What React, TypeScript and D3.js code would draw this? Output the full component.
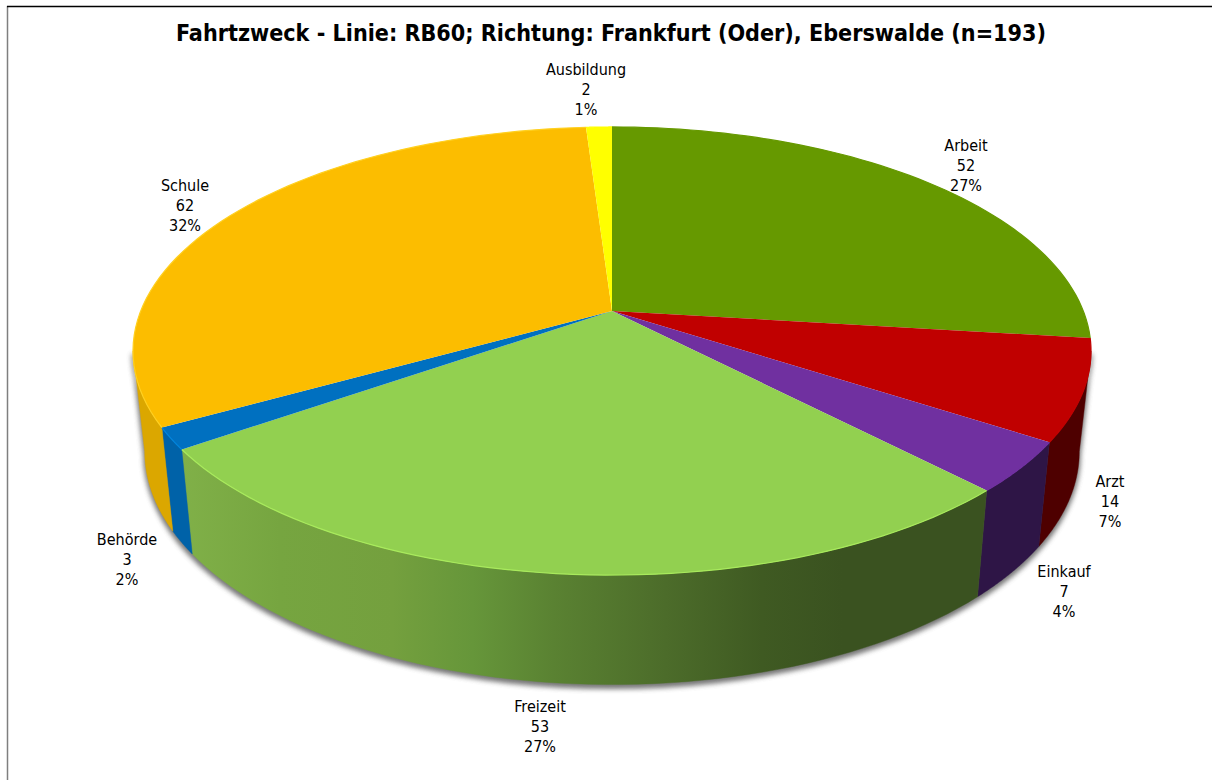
import React from "react";
import * as d3 from "d3";

const categories = ["Arbeit", "Arzt", "Einkauf", "Freizeit", "Behörde", "Schule", "Ausbildung"];
const counts = [52, 14, 7, 53, 3, 62, 2];
const percents = ["27%", "7%", "4%", "27%", "2%", "32%", "1%"];
const chartTitle = "Fahrtzweck - Linie: RB60; Richtung: Frankfurt (Oder), Eberswalde (n=193)";

const topColors = ["#669900", "#C00000", "#7030A0", "#92D050", "#0070C0", "#FCBD00", "#FFFF00"];
const rimColors = ["#669900", "#C00000", "#7030A0", "#A8EA5C", "#0084DC", "#FFD020", "#FFFF00"];
const wallColors = ["#3E5C00", "#4E0000", "#2E1546", "url(#freizeitWall)", "#0062A8", "#DBA700", "#B0B000"];

const labelAnchors: [number, number][] = [
  [966, 145], [1110, 481], [1064, 571], [540, 706], [127, 539], [185, 185], [586, 69],
];

const wallStops: [number, string][] = [
  [0, "#80B048"], [0.12, "#76A540"], [0.26, "#74A03E"], [0.36, "#66963A"], [0.46, "#5A8232"],
  [0.6, "#4C6C2A"], [0.72, "#3F5A22"], [0.82, "#3A5220"], [1, "#3A5220"],
];

// Perspective projection of the pie's circle onto the screen.
const apexX = 612, apexY = 311, scaleA = 471.3, scaleB = 216.9, tilt = 0.1786;
const project = (t: number): [number, number] => {
  const u = Math.sin(t), v = -Math.cos(t), w = 1 - tilt * v;
  return [apexX + (scaleA * u) / w, apexY + (scaleB * v) / w];
};
const lower = (t: number): [number, number] => {
  const [x, y] = project(t);
  return [apexX + (x - apexX) * 0.9756, 410 + (y - apexY) * 1.04];
};

const pieGen = d3.pie<number>().sort(null).startAngle(0).endAngle(2 * Math.PI);
const arcs = pieGen(counts);
const line = d3.line();
const samples = (a: number, b: number) => d3.range(0, 61).map((i) => a + ((b - a) * i) / 60);

const topPath = (a: number, b: number) =>
  line([[apexX, apexY], ...samples(a, b).map(project)]) + "Z";
const rimPath = (a: number, b: number) => line(samples(a, b).map(project)) || "";
const wallPath = (a: number, b: number) =>
  line([...samples(a, b).map(project), ...samples(a, b).reverse().map(lower)]) + "Z";

// The silhouette of the drum runs between the widest points of both rims.
const visFrom = Math.PI / 2 + Math.asin(tilt), visTo = (3 * Math.PI) / 2 - Math.asin(tilt);
const font = "'DejaVu Sans Condensed', 'DejaVu Sans', sans-serif";

export default function App() {
  return (
    <svg width={1212} height={780} style={{ position: "absolute", left: 0, top: 0, background: "#fff" }}>
      <defs>
        <linearGradient id="freizeitWall" gradientUnits="userSpaceOnUse" x1={183} x2={987} y1={0} y2={0}>
          {wallStops.map(([o, c]) => <stop key={o} offset={o} stopColor={c} />)}
        </linearGradient>
        <filter id="soft" x="-5%" y="-5%" width="110%" height="115%">
          <feGaussianBlur stdDeviation={2.6} />
        </filter>
      </defs>
      <line x1={7.5} x2={7.5} y1={6} y2={780} stroke="#7f7f7f" strokeWidth={1.5} />
      <line x1={7} x2={1212} y1={6.5} y2={6.5} stroke="#000" strokeWidth={1.3} />
      <text x={611} y={41} textAnchor="middle" fontFamily={font} fontWeight={700} fontSize={23}
        textLength={870} lengthAdjust="spacingAndGlyphs" fill="#000">{chartTitle}</text>

      <path d={wallPath(visFrom, visTo)} fill="#555" stroke="#555" strokeWidth={3} opacity={0.8}
        transform="translate(0,3)" filter="url(#soft)" />
      {arcs.map((d, i) => {
        const a = Math.max(d.startAngle, visFrom), b = Math.min(d.endAngle, visTo);
        return b > a ? <path key={i} d={wallPath(a, b)} fill={wallColors[i]} stroke={wallColors[i]} strokeWidth={0.4} /> : null;
      })}
      {arcs.map((d, i) => (
        <path key={i} d={topPath(d.startAngle, d.endAngle)} fill={topColors[i]} />
      ))}
      {arcs.map((d, i) => (
        <path key={i} d={rimPath(d.startAngle, d.endAngle)} fill="none" stroke={rimColors[i]} strokeWidth={1.2} />
      ))}

      {categories.map((c, i) => {
        const [x, y] = labelAnchors[i];
        return (
          <text key={c} textAnchor="middle" fontFamily={font} fontSize={16} fill="#000">
            {[c, String(counts[i]), percents[i]].map((t, j) => (
              <tspan key={j} x={x} y={y + 6 + j * 20}>{t}</tspan>
            ))}
          </text>
        );
      })}
    </svg>
  );
}
